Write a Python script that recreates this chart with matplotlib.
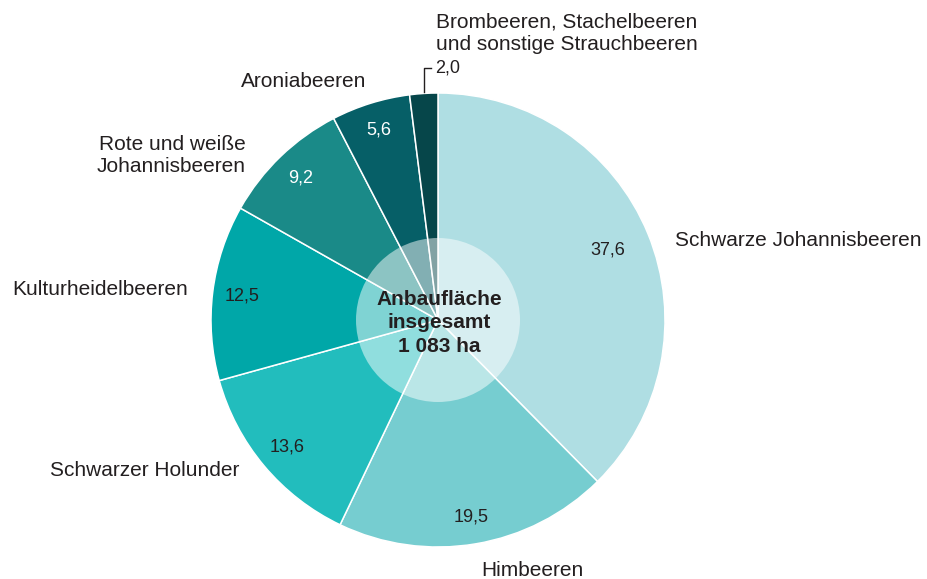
import numpy as np
import matplotlib
matplotlib.use("Agg")
import matplotlib.pyplot as plt
from matplotlib.patches import Circle

plt.rcParams['font.family'] = ['Liberation Sans', 'DejaVu Sans']

categories = ["Schwarze Johannisbeeren", "Himbeeren", "Schwarzer Holunder",
              "Kulturheidelbeeren", "Rote und weiße\nJohannisbeeren", "Aroniabeeren",
              "Brombeeren, Stachelbeeren\nund sonstige Strauchbeeren"]
values = [37.6, 19.5, 13.6, 12.5, 9.2, 5.6, 2.0]
value_labels = ["37,6", "19,5", "13,6", "12,5", "9,2", "5,6", "2,0"]
colors = ["#afdee3", "#76cdd0", "#22bdbd", "#00a7a8", "#1a8a88", "#065f67", "#06464a"]
value_colors = ["#231f20", "#231f20", "#231f20", "#231f20", "white", "white", "#231f20"]
center_text = "Anbaufläche\ninsgesamt\n1 083 ha"

W, H = 927, 579
fig = plt.figure(figsize=(W / 100, H / 100), dpi=100)
ax = fig.add_axes([0, 0, 1, 1])
ax.set_xlim(0, W)
ax.set_ylim(0, H)
ax.set_aspect('equal')
ax.axis('off')

cx, cy, R = 438, H - 320, 227
wedges, _ = ax.pie(values, colors=colors, startangle=90, counterclock=False,
                   center=(cx, cy), radius=R, frame=True,
                   wedgeprops=dict(edgecolor='white', linewidth=1.1))
ax.set_xlim(0, W)
ax.set_ylim(0, H)
ax.axis('off')

ax.add_patch(Circle((cx, cy), 82, facecolor='white', alpha=0.5, edgecolor='none', zorder=5))
ax.text(cx + 1, cy - 3, center_text, ha='center', va='center', fontsize=15,
        fontweight='bold', color='#231f20', linespacing=1.32, zorder=6)

# value labels and outer labels (offsets in screen pixels, positive = down)
label_offsets = [(6, 15), (53, 4), (-7, -10), (-2, 0), (-19, 15), (2, 0), (0, 0)]
label_ha = ['left', 'center', 'right', 'right', 'right', 'right', 'left']
pct_dist = [0.81, 0.88, 0.87, 0.87, 0.87, 0.875, 0]
cum = np.cumsum([0] + values[:-1])
for i, v in enumerate(values):
    mid = (cum[i] + v / 2) / sum(values) * 2 * np.pi
    dx, dy = np.sin(mid), np.cos(mid)
    if i < 6:
        ax.text(cx + dx * R * pct_dist[i], cy + dy * R * pct_dist[i], value_labels[i],
                ha='center', va='center', fontsize=13, color=value_colors[i], zorder=6)
        lx = cx + dx * R * 1.1 + label_offsets[i][0]
        ly = cy + dy * R * 1.1 - label_offsets[i][1]
        ax.text(lx, ly, categories[i], ha=label_ha[i], va='center', fontsize=15,
                color='#231f20', linespacing=1.2)
    else:
        # small slice: leader line above
        px = cx + np.sin(mid) * R
        py = cy + np.cos(mid) * R
        ax.plot([px, px, px + 7], [py + 1, py + 25, py + 25], color='#231f20', lw=1)
        ax.text(px + 11, py + 25, value_labels[i], ha='left', va='center', fontsize=13,
                color='#231f20')
        ax.text(px + 12, py + 60, categories[i], ha='left', va='center', fontsize=15,
                color='#231f20', linespacing=1.2)

fig.savefig("out.png", dpi=100)
